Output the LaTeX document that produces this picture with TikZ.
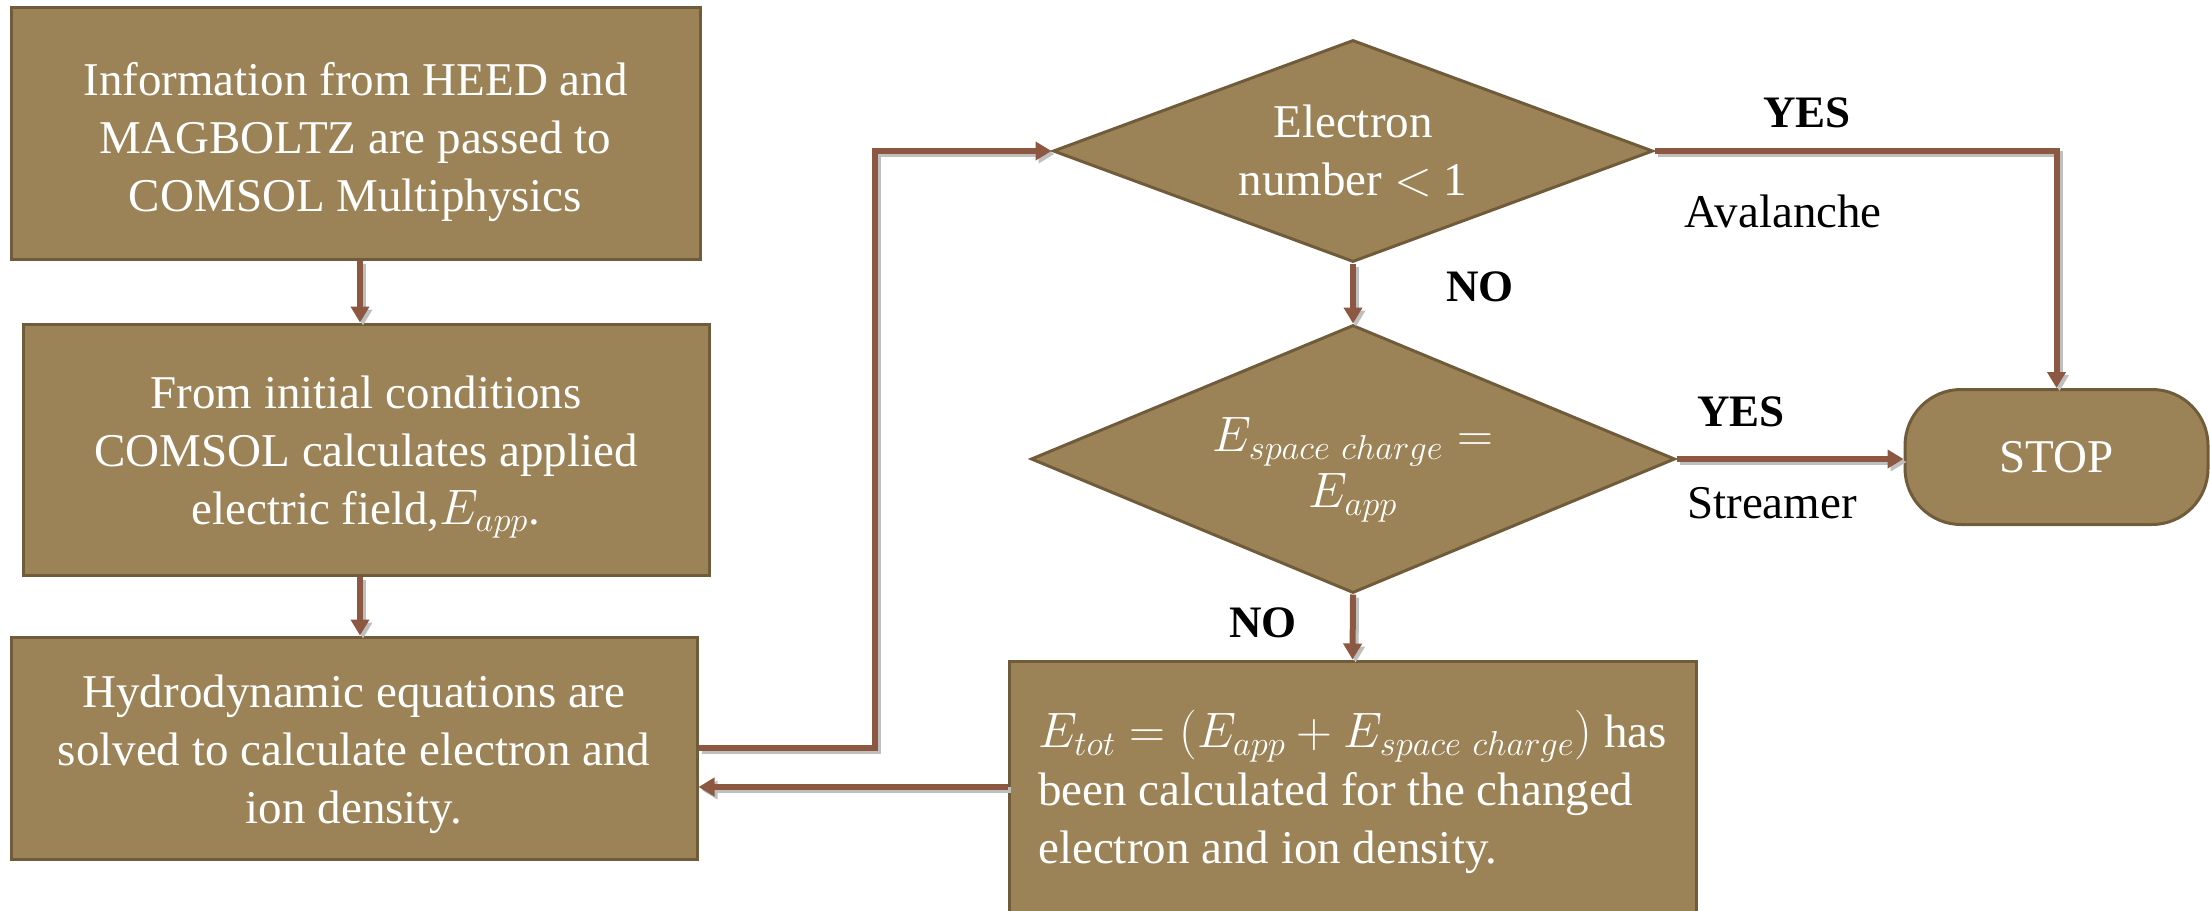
\documentclass[tikz,border=0pt]{standalone}
\usepackage{fontspec}
\setmainfont{Liberation Serif}
\usetikzlibrary{shapes.geometric,arrows.meta}
\definecolor{fillc}{RGB}{156,131,87}
\definecolor{bordc}{RGB}{112,92,58}
\definecolor{linec}{RGB}{140,88,66}
\newcommand{\fsz}{\fontsize{23.5}{29}\selectfont}
\newcommand{\lsz}{\fontsize{22.5}{27}\selectfont}
\begin{document}
\begin{tikzpicture}[x=0.5pt,y=-0.5pt,
  box/.style={draw=bordc, fill=fillc, line width=1.5pt, text=white, align=center, inner sep=0pt, font=\fsz},
  dia/.style={diamond, draw=bordc, fill=fillc, line width=1.5pt, text=white, align=center, inner sep=0pt, font=\fsz},
  arr/.style={draw=linec, line width=3pt, -{Triangle[length=8pt,width=9pt]},
     preaction={draw=black!25, line width=3pt, transform canvas={xshift=1.5pt,yshift=-1.5pt}}},
  lbl/.style={font=\lsz\bfseries, text=black, inner sep=0pt},
  plain/.style={font=\fsz, text=black, inner sep=0pt}]
\clip (0,0) rectangle (2210,910);

% boxes
\node[box, minimum width=344.5pt, minimum height=126pt] (b1) at (355.5,133)
  {\rule{0pt}{26pt}Information from HEED and\\ MAGBOLTZ are passed to\\ COMSOL Multiphysics};
\node[box, minimum width=343pt, minimum height=125.5pt] (b2) at (366,449.5)
  {\rule{0pt}{24pt}From initial conditions\\ COMSOL calculates applied\\ electric field,$E_{app}$.};
\node[box, minimum width=343pt, minimum height=111pt] (b3) at (354,748)
  {\rule{0pt}{22.5pt}Hydrodynamic equations are\\ solved to calculate electron and\\ ion density.};
\node[box, minimum width=343.5pt, minimum height=131pt, align=left] (b4) at (1352.5,792)
  {$E_{tot} = (E_{app} + E_{space\ charge})$ has\\ been calculated for the changed\\ electron and ion density.};

% decisions
\node[dia, minimum width=300pt, minimum height=111pt, aspect=2.7] (d1) at (1353,151)
  {Electron\\ number $<$ 1};
\node[dia, minimum width=322pt, minimum height=134pt, aspect=2.4] (d2) at (1353,459)
  {\rule{0pt}{28pt}$E_{space\ charge} =$\\[-1pt] $E_{app}$};

% terminator
\node[box, rounded corners=28pt, minimum width=151.5pt, minimum height=67.5pt] (stop) at (2056.5,457) {STOP};

% labels
\node[lbl] (yes1) at (1807,113) {YES};
\node[plain] (aval) at (1783,211) {Avalanche};
\node[lbl] (no1) at (1480,287) {NO};
\node[lbl] (yes2) at (1741,412) {YES};
\node[plain] (strm) at (1772,503) {Streamer};
\node[lbl] (no2) at (1263,623) {NO};

% helper coordinates
\coordinate (ax) at (360,0);
\coordinate (c1) at (875,748);
\coordinate (lo) at (0,787);

% connectors
\draw[arr] (b1.south -| ax) -- (b2.north -| ax);
\draw[arr] (b2.south -| ax) -- (b3.north -| ax);
\draw[arr] (b3.east) -- (c1) |- (d1.west);
\draw[arr] (d1.east) -| (stop.north);
\draw[arr] (d1.south) -- (d2.north);
\draw[arr] (d2.east) -- (d2.east -| stop.west);
\draw[arr] (d2.south) -- (b4.north);
\draw[arr] (b4.west |- lo) -- (b3.east |- lo);
\end{tikzpicture}
\end{document}
